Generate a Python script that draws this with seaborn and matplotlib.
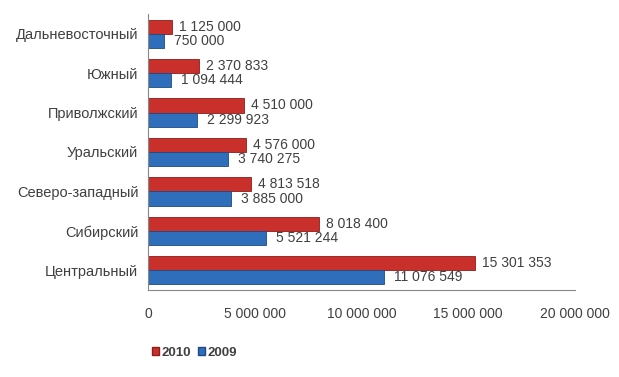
import matplotlib
matplotlib.use("Agg")
import matplotlib.pyplot as plt
import seaborn as sns
import pandas as pd
from matplotlib.ticker import FuncFormatter
from matplotlib.patches import Patch

regions = ["Дальневосточный", "Южный", "Приволжский", "Уральский",
           "Северо-западный", "Сибирский", "Центральный"]
values_2010 = [1125000, 2370833, 4510000, 4576000, 4813518, 8018400, 15301353]
values_2009 = [750000, 1094444, 2299923, 3740275, 3885000, 5521244, 11076549]
years = ["2010", "2009"]
x_ticks = [0, 5000000, 10000000, 15000000, 20000000]

df = pd.DataFrame({
    "region": regions * 2,
    "value": values_2010 + values_2009,
    "year": ["2010"] * len(regions) + ["2009"] * len(regions),
})

sns.set_style("white")
plt.rcParams['font.family'] = ['Liberation Sans', 'DejaVu Sans']

colors = {"2010": "#C9302C", "2009": "#2F6EBA"}
edges = {"2010": "#8E1E1B", "2009": "#1F4A80"}

fig = plt.figure(figsize=(6.19, 3.77), dpi=100)
ax = fig.add_axes([148 / 619, 1 - 290 / 377, (575 - 148) / 619, (290 - 14) / 377])

sns.barplot(data=df, y="region", x="value", hue="year", hue_order=years,
            order=regions, palette=colors, orient="h", width=0.72,
            ax=ax, legend=False, saturation=1)

def fmt(v):
    return f"{int(v):,}".replace(",", " ")

for cont, yr in zip(ax.containers, years):
    for bar in cont:
        bar.set_edgecolor(edges[yr])
        bar.set_linewidth(0.6)
    ax.bar_label(cont, labels=[fmt(b.get_width()) for b in cont],
                 padding=5 if yr == "2010" else 7,
                 fontsize=10, color="#404040")

ax.set_xlim(0, 20000000)
ax.set_xticks(x_ticks)
ax.xaxis.set_major_formatter(FuncFormatter(lambda v, p: fmt(v)))
ax.set_xlabel("")
ax.set_ylabel("")
ax.tick_params(axis="x", length=0, labelsize=10, labelcolor="#404040", pad=12)
ax.tick_params(axis="y", length=0, labelsize=10.5, labelcolor="#404040", pad=7)
for s in ["top", "right"]:
    ax.spines[s].set_visible(False)
ax.spines["left"].set_color("#888888")
ax.spines["bottom"].set_color("#888888")
ax.spines["left"].set_linewidth(0.8)
ax.spines["bottom"].set_linewidth(0.8)

handles = [Patch(facecolor=colors[y], edgecolor=edges[y], label=y) for y in years]
leg = fig.legend(handles=handles, loc="center left", bbox_to_anchor=(140 / 619, 1 - 353 / 377),
                 ncol=2, frameon=False, handlelength=0.55, handleheight=0.55,
                 handletextpad=0.2, columnspacing=0.5,
                 prop={"size": 9.5, "weight": "bold"})
for t in leg.get_texts():
    t.set_color("#404040")

fig.savefig("out.png", dpi=100)
